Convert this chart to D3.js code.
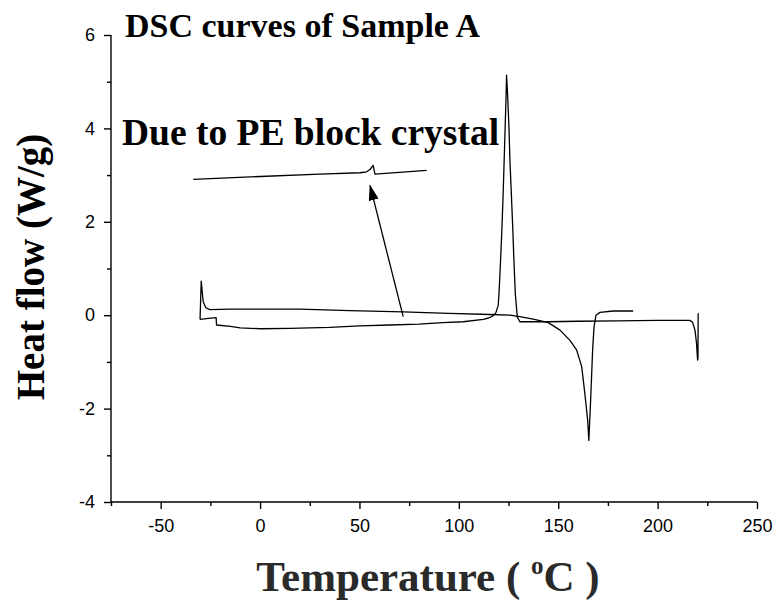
<!DOCTYPE html>
<html>
<head>
<meta charset="utf-8">
<script src="https://cdn.jsdelivr.net/npm/d3@7"></script>
<style>
  html, body { margin: 0; padding: 0; background: #fff; }
  svg { display: block; }
  .serif { font-family: "Liberation Serif", "Times New Roman", serif; font-weight: bold; }
</style>
</head>
<body>
<svg id="chart" width="775" height="604"></svg>
<script>
// Cooling run: 220 °C down to -30 °C (crystallization exotherm near 124 °C)
const coolT  = [220.4, 220.3, 220.1, 219.6, 218.8, 217.6, 216.2, 200, 180, 160, 145, 135, 130.7,
                129.4, 128.4, 127.7, 127.1, 126.4, 125.7, 125.2, 124.5, 124.0,
                123.8, 123.3, 122.8, 122.3, 121.7, 121.0, 120.2, 119.8, 118.6, 117.3, 115, 112.3,
                102.2, 92, 80, 65.3, 50, 35, 15, 0, -10, -15, -21.9, -22.1, -26, -30.2];
const coolHF = [0.04, -0.93, -0.96, -0.61, -0.32, -0.15, -0.11, -0.11, -0.12, -0.13, -0.14, -0.14, -0.14,
                -0.04, 0.46, 1.18, 1.89, 2.61, 3.32, 4.03, 4.75, 5.14,
                4.75, 4.03, 3.32, 2.61, 1.89, 1.18, 0.46, 0.21, 0.05, -0.01, -0.06, -0.09,
                -0.14, -0.16, -0.19, -0.21, -0.23, -0.26, -0.28, -0.29, -0.27, -0.24, -0.21, -0.05, -0.07, -0.09];

// Heating run: -30 °C up to 188 °C (melting endotherm near 165 °C)
const heatT  = [-30.2, -29.6, -29.0, -28.6, -27.3, -25.3, -15, 0, 20, 45, 72, 95, 115.6, 125.7,
                130.7, 138, 145, 150.9, 155.9, 159.3, 161.8, 163.4, 164.8, 165.4,
                166.3, 167.3, 168, 169, 171, 177.7, 187.7];
const heatHF = [-0.09, 0.73, 0.45, 0.29, 0.16, 0.12, 0.13, 0.13, 0.13, 0.10, 0.07, 0.04, 0.015, 0.0,
                -0.03, -0.09, -0.16, -0.32, -0.54, -0.75, -1.1, -1.68, -2.25, -2.68,
                -1.82, -0.75, -0.25, 0.0, 0.06, 0.09, 0.09];

// Magnified trace of the small PE crystal signal, placed in plot units
const insetT  = [-33.6, 0, 30, 50.3, 53.6, 55.3, 56.9, 57.4, 57.8, 70, 83.8];
const insetHF = [2.91, 2.97, 3.02, 3.05, 3.07, 3.12, 3.21, 3.10, 3.02, 3.06, 3.10];

// Annotation arrow: tail on the heating curve, head under the magnified trace
const arrowT  = [72.0, 55.3];
const arrowHF = [-0.03, 2.78];

const xTicks = [-50, 0, 50, 100, 150, 200, 250];
const xMinor = [-75, -25, 25, 75, 125, 175, 225];
const yTicks = [-4, -2, 0, 2, 4, 6];
const yMinor = [-3, -1, 1, 3, 5];

const svg = d3.select("#chart");
const x = d3.scaleLinear().domain([-75, 250]).range([111, 757]);
const y = d3.scaleLinear().domain([-4, 6]).range([502, 35]);
const fmt = d => String(d);

// Axes: major ticks with labels, minor ticks without
const xAxis = svg.append("g").attr("transform", `translate(0,${y(-4)})`)
  .call(d3.axisBottom(x).tickValues(xTicks).tickSize(7).tickPadding(10).tickFormat(fmt));
svg.append("g").attr("transform", `translate(0,${y(-4)})`)
  .call(d3.axisBottom(x).tickValues(xMinor).tickSize(4).tickFormat(""))
  .call(g => g.select(".domain").remove());
const yAxis = svg.append("g").attr("transform", `translate(${x(-75)},0)`)
  .call(d3.axisLeft(y).tickValues(yTicks).tickSize(7).tickPadding(9).tickFormat(fmt));
svg.append("g").attr("transform", `translate(${x(-75)},0)`)
  .call(d3.axisLeft(y).tickValues(yMinor).tickSize(4).tickFormat(""))
  .call(g => g.select(".domain").remove());

xAxis.select(".domain").attr("d", `M${x(-75)},0H${x(250)}`);
yAxis.select(".domain").attr("d", `M0,${y(-4)}V${y(6)}`);
svg.selectAll(".domain, .tick line").attr("stroke", "#000").attr("stroke-width", 1.4);
svg.selectAll("g").attr("font-size", null).attr("font-family", null);
svg.selectAll(".tick text")
  .style("font-family", "'Liberation Sans', Arial, sans-serif")
  .style("font-size", "18px").attr("fill", "#000");

// Curves
const line = d3.line().x(d => x(d[0])).y(d => y(d[1]));
const zip = (a, b) => a.map((v, i) => [v, b[i]]);
[[coolT, coolHF], [heatT, heatHF], [insetT, insetHF]].forEach(([t, h]) => {
  svg.append("path").datum(zip(t, h))
    .attr("fill", "none").attr("stroke", "#000").attr("stroke-width", 1.3)
    .attr("stroke-linejoin", "round").attr("d", line);
});

// Arrow
svg.append("defs").append("marker")
  .attr("id", "head").attr("viewBox", "0 0 16 10").attr("refX", 15).attr("refY", 5)
  .attr("markerWidth", 16).attr("markerHeight", 10).attr("markerUnits", "userSpaceOnUse")
  .attr("orient", "auto")
  .append("path").attr("d", "M0,0L16,5L0,10Z").attr("fill", "#000");
svg.append("path").datum(zip(arrowT, arrowHF))
  .attr("fill", "none").attr("stroke", "#000").attr("stroke-width", 1.3)
  .attr("marker-end", "url(#head)").attr("d", line);

// Texts
svg.append("text").attr("class", "serif").attr("x", 125).attr("y", 37)
  .attr("font-size", 34).text("DSC curves of Sample A");
svg.append("text").attr("class", "serif").attr("x", 122).attr("y", 145)
  .attr("font-size", 37.5).text("Due to PE block crystal");

svg.append("text").attr("class", "serif")
  .attr("transform", "translate(44,267) rotate(-90)")
  .attr("text-anchor", "middle").attr("font-size", 39).text("Heat flow (W/g)");

const xt = svg.append("text").attr("class", "serif").attr("x", 428).attr("y", 591)
  .attr("text-anchor", "middle").attr("font-size", 43).attr("fill", "#2a2a2a");
xt.append("tspan").text("Temperature ( ");
xt.append("tspan").attr("font-size", 25).attr("dy", -17).text("o");
xt.append("tspan").attr("dy", 17).text("C )");
</script>
</body>
</html>
